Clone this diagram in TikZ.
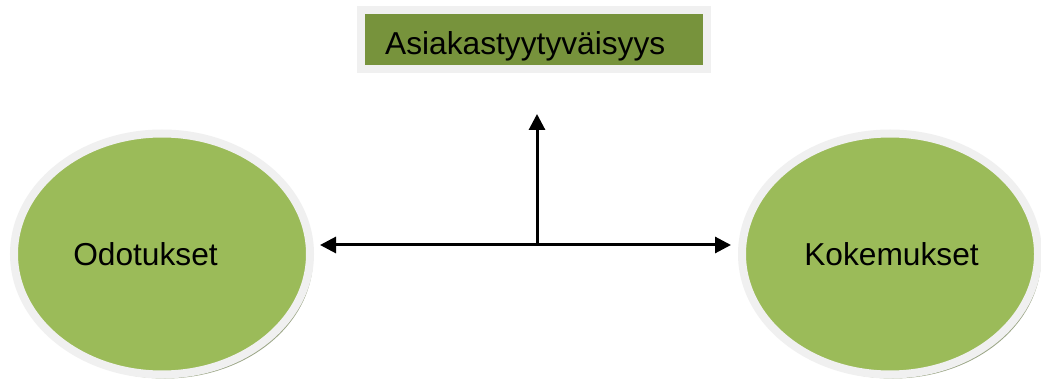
\documentclass[tikz,border=0pt]{standalone}
\usepackage{fontspec}
\setmainfont{Liberation Sans}
\usetikzlibrary{shapes.geometric,shadows,arrows.meta,calc}
\definecolor{ringgray}{HTML}{F0F0F0}
\definecolor{ovalgreen}{HTML}{9BBB59}
\definecolor{boxgreen}{HTML}{77933C}
\definecolor{shadowcol}{HTML}{9AA585}
\tikzset{
  oval/.style={ellipse, draw=ringgray, line width=8pt, fill=ovalgreen,
    minimum width=296pt, minimum height=241pt, inner sep=0pt,
    drop shadow={shadow xshift=3pt, shadow yshift=-4pt, fill=shadowcol, opacity=1}},
  titlebox/.style={rectangle, draw=ringgray, line width=8pt, fill=boxgreen,
    minimum width=346pt, minimum height=59pt, inner sep=0pt,
    drop shadow={shadow xshift=4pt, shadow yshift=-4pt, fill=shadowcol, opacity=1}},
  lbl/.style={font=\fontsize{31.7pt}{38pt}\selectfont, text=black, inner sep=0pt},
  conn/.style={line width=3pt, -{Triangle[length=16pt,width=16pt]}},
  conn2/.style={line width=3pt, {Triangle[length=16pt,width=16pt]}-{Triangle[length=16pt,width=16pt]}}
}
\begin{document}
\begin{tikzpicture}[x=1pt,y=-1pt]
\useasboundingbox[fill=white] (0,0) rectangle (1041,387);
\node[titlebox] (title) at (534,39.5) {};
\begin{scope}
  \clip (365,14) rectangle (703,63);
  \node[lbl, anchor=base west] (titletxt) at (385,55) {Asiakastyytyväisyys};
\end{scope}
\node[oval] (odo) at (162,254) {};
\node[lbl] (odotxt) at (145.5,254) {Odotukset};
\node[oval] (koke) at (890,254) {};
\node[lbl] (koketxt) at (891.5,254) {Kokemukset};
\coordinate (jn) at (537,245);
\coordinate (upend) at (537,114);
\draw[conn2] ($(odo.east)+(6,-9)$) -- ($(koke.west)+(-7,-9)$);
\draw[conn] (jn) -- (upend);
\end{tikzpicture}
\end{document}
